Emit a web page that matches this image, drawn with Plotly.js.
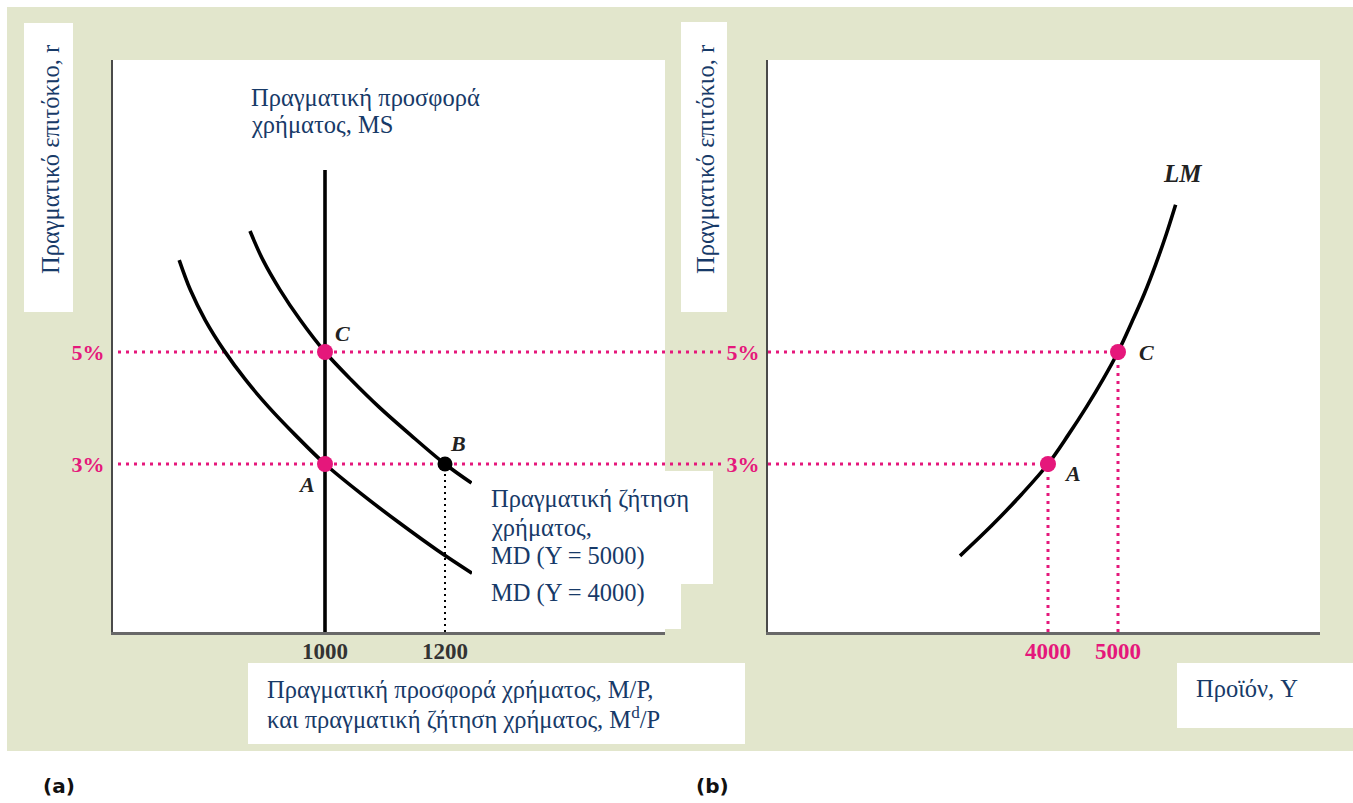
<!DOCTYPE html>
<html>
<head>
<meta charset="utf-8">
<script src="https://cdn.plot.ly/plotly-3.0.1.min.js"></script>
<style>
html,body{margin:0;padding:0;background:#ffffff;}
#chart{width:1353px;height:803px;}
</style>
</head>
<body>
<div id="chart"></div>
<script>
// ---------- data ----------
const rateTicks = [3, 5];
const rateTickLabels = ['3%', '5%'];
const moneyTicks = [1000, 1200];
const moneyTickLabels = ['1000', '1200'];
const outputTicks = [4000, 5000];
const outputTickLabels = ['4000', '5000'];

// money demand curves (real money, real interest rate %)
const md4000X = [757, 775.5, 800.3, 832.2, 867.8, 905.8, 950.3, 1000, 1059, 1123.8, 1187.2, 1245];
const md4000Y = [6.64, 6.11, 5.57, 5.02, 4.5, 4.02, 3.52, 3.0, 2.48, 1.95, 1.46, 1.05];
const md5000X = [875, 896.7, 925, 958.8, 1000, 1044, 1089.8, 1142.5, 1200, 1244.2];
const md5000Y = [7.16, 6.64, 6.11, 5.57, 5.0, 4.5, 4.02, 3.52, 3.0, 2.66];

// real money supply (vertical)
const msX = [1000, 1000];
const msY = [0, 8.25];

// LM curve (output, real interest rate %)
const lmX = [2743, 3203, 3624, 4000, 4290, 4550, 4790, 5000, 5200, 5379, 5540, 5686, 5823];
const lmY = [1.36, 1.91, 2.46, 3.0, 3.52, 4.02, 4.52, 5.0, 5.54, 6.05, 6.57, 7.09, 7.63];

// equilibrium points A and C
const eqLabels = ['A', 'C'];
const eqMoney = [1000, 1000];
const eqRate = [3, 5];
const eqOutput = [4000, 5000];
// point B
const bMoney = [1200];
const bRate = [3];

// ---------- styling ----------
const W = 1353, H = 803;
const px = v => v / W;
const py = v => 1 - v / H;
const PINK = '#e5177b';
const NAVY = '#173a68';
const BEIGE = '#e2e6cc';
const SERIF = 'Liberation Serif, Times New Roman, serif';

const curveLine = {color: '#000', width: 3.6, shape: 'spline', smoothing: 1};

const traces = [
  {x: md4000X, y: md4000Y, xaxis: 'x', yaxis: 'y', mode: 'lines', line: curveLine, hoverinfo: 'skip'},
  {x: md5000X, y: md5000Y, xaxis: 'x', yaxis: 'y', mode: 'lines', line: curveLine, hoverinfo: 'skip'},
  {x: msX, y: msY, xaxis: 'x', yaxis: 'y', mode: 'lines', line: {color: '#000', width: 3.6}, hoverinfo: 'skip'},
  {x: eqMoney, y: eqRate, xaxis: 'x', yaxis: 'y', mode: 'markers', marker: {color: PINK, size: 16}, hoverinfo: 'skip'},
  {x: bMoney, y: bRate, xaxis: 'x', yaxis: 'y', mode: 'markers', marker: {color: '#000', size: 15}, hoverinfo: 'skip'},
  {x: lmX, y: lmY, xaxis: 'x2', yaxis: 'y2', mode: 'lines', line: curveLine, hoverinfo: 'skip'},
  {x: eqOutput, y: eqRate, xaxis: 'x2', yaxis: 'y2', mode: 'markers', marker: {color: PINK, size: 16}, hoverinfo: 'skip'}
];

function rect(x0, y0, x1, y1, color, layer) {
  return {type: 'rect', xref: 'paper', yref: 'paper', x0: px(x0), x1: px(x1), y0: py(y1), y1: py(y0),
          fillcolor: color, line: {width: 0}, layer: layer || 'below'};
}
const pinkDot = {color: PINK, width: 3, dash: '3px,5px'};

const shapes = [
  rect(7, 7, 1353, 751, BEIGE),
  rect(24, 23, 73, 312, '#fff'),
  rect(681, 22, 727, 312, '#fff'),
  rect(113, 60, 665, 632, '#fff'),
  rect(768, 60, 1320, 632, '#fff'),
  rect(248, 663, 745, 744, '#fff'),
  rect(1177, 663, 1353, 728, '#fff'),
  // horizontal pink guides spanning panel (a) into the gap
  {type: 'line', xref: 'paper', yref: 'y', x0: px(118), x1: px(721), y0: eqRate[1], y1: eqRate[1], line: pinkDot, layer: 'below'},
  {type: 'line', xref: 'paper', yref: 'y', x0: px(118), x1: px(721), y0: eqRate[0], y1: eqRate[0], line: pinkDot, layer: 'below'},
  // panel (b) guides
  {type: 'line', xref: 'x2', yref: 'y2', x0: 0, x1: eqOutput[1], y0: eqRate[1], y1: eqRate[1], line: pinkDot, layer: 'below'},
  {type: 'line', xref: 'x2', yref: 'y2', x0: 0, x1: eqOutput[0], y0: eqRate[0], y1: eqRate[0], line: pinkDot, layer: 'below'},
  {type: 'line', xref: 'x2', yref: 'y2', x0: eqOutput[0], x1: eqOutput[0], y0: 0, y1: eqRate[0], line: pinkDot, layer: 'below'},
  {type: 'line', xref: 'x2', yref: 'y2', x0: eqOutput[1], x1: eqOutput[1], y0: 0, y1: eqRate[1], line: pinkDot, layer: 'below'},
  // black dotted from B
  {type: 'line', xref: 'x', yref: 'y', x0: bMoney[0], x1: bMoney[0], y0: 0, y1: bRate[0], line: {color: '#000', width: 2, dash: '2px,4px'}, layer: 'below'},
  // label boxes over the curves
  rect(472, 471, 713, 584, '#fff', 'above'),
  rect(472, 583, 681, 629, '#fff', 'above')
];

function txt(x, y, text, extra) {
  return Object.assign({xref: 'paper', yref: 'paper', x: px(x), y: py(y), text: text, showarrow: false,
    xanchor: 'left', yanchor: 'middle', align: 'left',
    font: {family: SERIF, size: 24.5, color: NAVY}}, extra || {});
}
const ptFont = {family: SERIF, size: 22, color: '#222', style: 'italic', weight: 'bold'};
function ptLabel(xref, yref, x, y, text, dx, dy, size) {
  return {xref: xref, yref: yref, x: x, y: y, text: text, showarrow: false, xshift: dx, yshift: dy,
          xanchor: 'center', yanchor: 'middle', font: Object.assign({}, ptFont, size ? {size: size} : {})};
}

const annotations = [
  txt(249, 97, 'Πραγματική προσφορά'),
  txt(249, 125, 'χρήματος, MS'),
  txt(489, 498, 'Πραγματική ζήτηση'),
  txt(489, 527, 'χρήματος,'),
  txt(489, 556, 'MD (Y = 5000)'),
  txt(489, 593, 'MD (Y = 4000)'),
  txt(265, 689, 'Πραγματική προσφορά χρήματος, M/P,'),
  txt(265, 718, 'και πραγματική ζήτηση χρήματος, M<sup>d</sup>/P'),
  txt(1194, 688, 'Προϊόν, Y'),
  txt(50, 160, 'Πραγματικό επιτόκιο, r', {xanchor: 'center', textangle: -90}),
  txt(705, 160, 'Πραγματικό επιτόκιο, r', {xanchor: 'center', textangle: -90}),
  txt(59, 786, '(a)', {xanchor: 'center', font: {family: 'DejaVu Sans', size: 20, color: '#111', weight: 'bold'}}),
  txt(712, 786, '(b)', {xanchor: 'center', font: {family: 'DejaVu Sans', size: 20, color: '#111', weight: 'bold'}}),
  ptLabel('x', 'y', eqMoney[1], eqRate[1], eqLabels[1], 17, 18),
  ptLabel('x', 'y', eqMoney[0], eqRate[0], eqLabels[0], -19, -20),
  ptLabel('x', 'y', bMoney[0], bRate[0], 'B', 13, 21),
  ptLabel('x2', 'y2', eqOutput[1], eqRate[1], eqLabels[1], 28, -1),
  ptLabel('x2', 'y2', eqOutput[0], eqRate[0], eqLabels[0], 24, -9),
  ptLabel('x2', 'y2', lmX[lmX.length - 1], lmY[lmY.length - 1], 'LM', 7, 31, 25)
];

const tickFontGrey = {family: SERIF, size: 23, color: '#333', weight: 'bold'};
const tickFontPink = {family: SERIF, size: 23, color: PINK, weight: 'bold'};
const tickFontPinkY = {family: SERIF, size: 22, color: PINK, weight: 'bold'};
const baseAxis = {showgrid: false, zeroline: false, fixedrange: true, ticks: ''};

const layout = {
  width: W, height: H,
  margin: {l: 0, r: 0, t: 0, b: 0, pad: 0},
  paper_bgcolor: '#ffffff',
  plot_bgcolor: 'rgba(0,0,0,0)',
  showlegend: false,
  xaxis: Object.assign({}, baseAxis, {domain: [px(113), px(665)], range: [646.67, 1566.67], anchor: 'y',
    tickvals: moneyTicks, ticktext: moneyTickLabels, tickfont: tickFontGrey,
    showline: true, linecolor: '#686868', linewidth: 3, ticklabelstandoff: -4}),
  yaxis: Object.assign({}, baseAxis, {domain: [py(632), py(60)], range: [0, 10.214], anchor: 'x',
    tickvals: rateTicks, ticktext: rateTickLabels, tickfont: tickFontPinkY,
    showline: true, linecolor: '#4a4a4a', linewidth: 2, ticklabelstandoff: 2}),
  xaxis2: Object.assign({}, baseAxis, {domain: [px(768), px(1320)], range: [0, 7885.7], anchor: 'y2',
    tickvals: outputTicks, ticktext: outputTickLabels, tickfont: tickFontPink,
    showline: true, linecolor: '#686868', linewidth: 3, ticklabelstandoff: -4}),
  yaxis2: Object.assign({}, baseAxis, {domain: [py(632), py(60)], range: [0, 10.214], anchor: 'x2',
    tickvals: rateTicks, ticktext: rateTickLabels, tickfont: tickFontPinkY,
    showline: true, linecolor: '#4a4a4a', linewidth: 2, ticklabelstandoff: 2}),
  shapes: shapes,
  annotations: annotations
};

Plotly.newPlot('chart', traces, layout, {staticPlot: true, displayModeBar: false});
</script>
</body>
</html>
